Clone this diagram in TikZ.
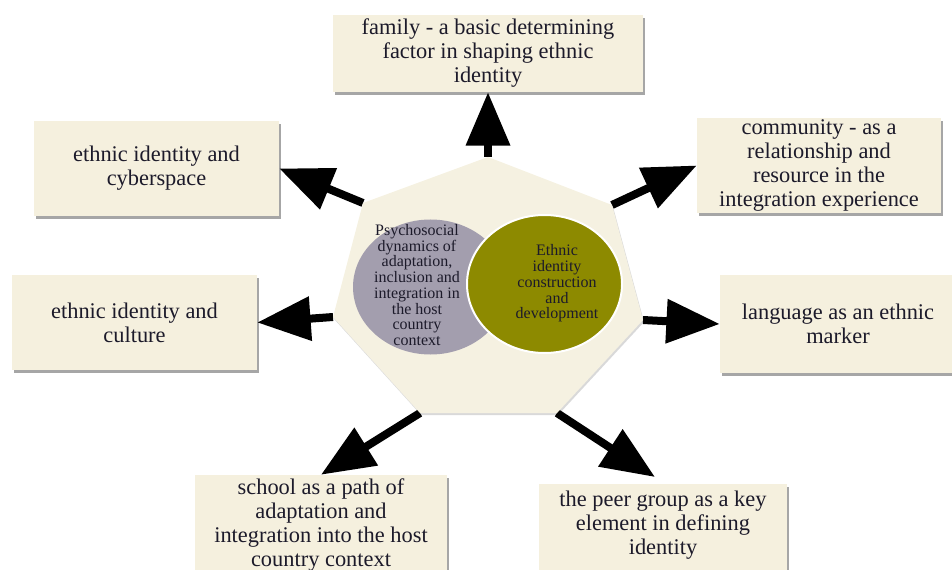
\documentclass[tikz,border=0pt]{standalone}
\usepackage{fontspec}
\setmainfont{Liberation Serif}
\usetikzlibrary{arrows.meta,shadows}
\definecolor{cream}{HTML}{F5F0DE}
\definecolor{heptfill}{HTML}{F5F1E1}
\definecolor{greyc}{HTML}{A39EAE}
\definecolor{olive}{HTML}{8D8A00}
\definecolor{ink}{HTML}{1C1A2A}
\tikzset{
  box/.style={draw=none, fill=cream, align=center, text=ink, inner sep=0pt,
    font=\fontsize{16.8}{18}\selectfont,
    drop shadow={shadow xshift=1.2pt, shadow yshift=-2pt, opacity=0.35, fill=black}},
  arr/.style={line width=6pt, -{Triangle[length=40pt,width=32pt]}, draw=black},
  ctext/.style={align=center, text=ink, inner sep=0pt, font=\fontsize{12}{11.8}\selectfont}
}
\begin{document}
\begin{tikzpicture}[x=0.75pt,y=-0.75pt]
\useasboundingbox (0,0) rectangle (952,570);
\clip (0,0) rectangle (952,570);
% boxes
\node[box, minimum width=232.5pt, minimum height=57.75pt] (fam) at (488,53.5)
  {family - a basic determining\\factor in shaping ethnic\\identity};
\node[box, minimum width=183.75pt, minimum height=71.25pt] (cyb) at (156.5,168.5)
  {ethnic identity and\\cyberspace};
\node[box, minimum width=183pt, minimum height=71.25pt] (com) at (819,165.5)
  {community - as a\\relationship and\\resource in the\\integration experience};
\node[box, minimum width=183.75pt, minimum height=71.25pt] (cul) at (134.5,322.5)
  {ethnic identity and\\culture};
\node[box, minimum width=177pt, minimum height=73.5pt] (lan) at (838,324)
  {language as an ethnic\\marker};
\node[box, minimum width=189pt, minimum height=75pt] (sch) at (321,525)
  {school as a path of\\adaptation and\\integration into the host\\country context};
\node[box, minimum width=186pt, minimum height=69pt] (peer) at (663,530)
  {};
\node[ctext, font=\fontsize{16.8}{18}\selectfont] (peertext) at (663,525)
  {the peer group as a key\\element in defining\\identity};
\coordinate (ptip) at (655,477);
% heptagon vertices
\coordinate (v1) at (488,157);
\coordinate (v2) at (612,205);
\coordinate (v3) at (643,320);
\coordinate (v4) at (557,413);
\coordinate (v5) at (420,413);
\coordinate (v6) at (333,317);
\coordinate (v7) at (363,203);
% arrows
\draw[arr] (v1) -- (fam.south);
\draw[arr] (v7) -- (cyb.east);
\draw[arr] (v2) -- (com.west);
\draw[arr] (v6) -- (cul.east);
\draw[arr] (v3) -- (lan.west);
\draw[arr] (v5) -- (sch.north);
\draw[arr] (v4) -- (ptip);
% heptagon
\fill[heptfill, drop shadow={shadow xshift=0.8pt, shadow yshift=-1.5pt, opacity=0.15, fill=black}]
  (v1) -- (v2) -- (v3) -- (v4) -- (v5) -- (v6) -- (v7) -- cycle;
% circles
\fill[greyc] (430.5,287) ellipse [x radius=77.5, y radius=67.5];
\draw[white, line width=1.5pt, fill=olive] (544.5,284) ellipse [x radius=77.5, y radius=69];
\node[ctext] (gtext) at (417,285)
  {Psychosocial\\dynamics of\\adaptation,\\inclusion and\\integration in\\the host\\country\\context};
\node[ctext] (otext) at (557,283.5)
  {Ethnic\\identity\\construction\\and\\development};
\end{tikzpicture}
\end{document}
